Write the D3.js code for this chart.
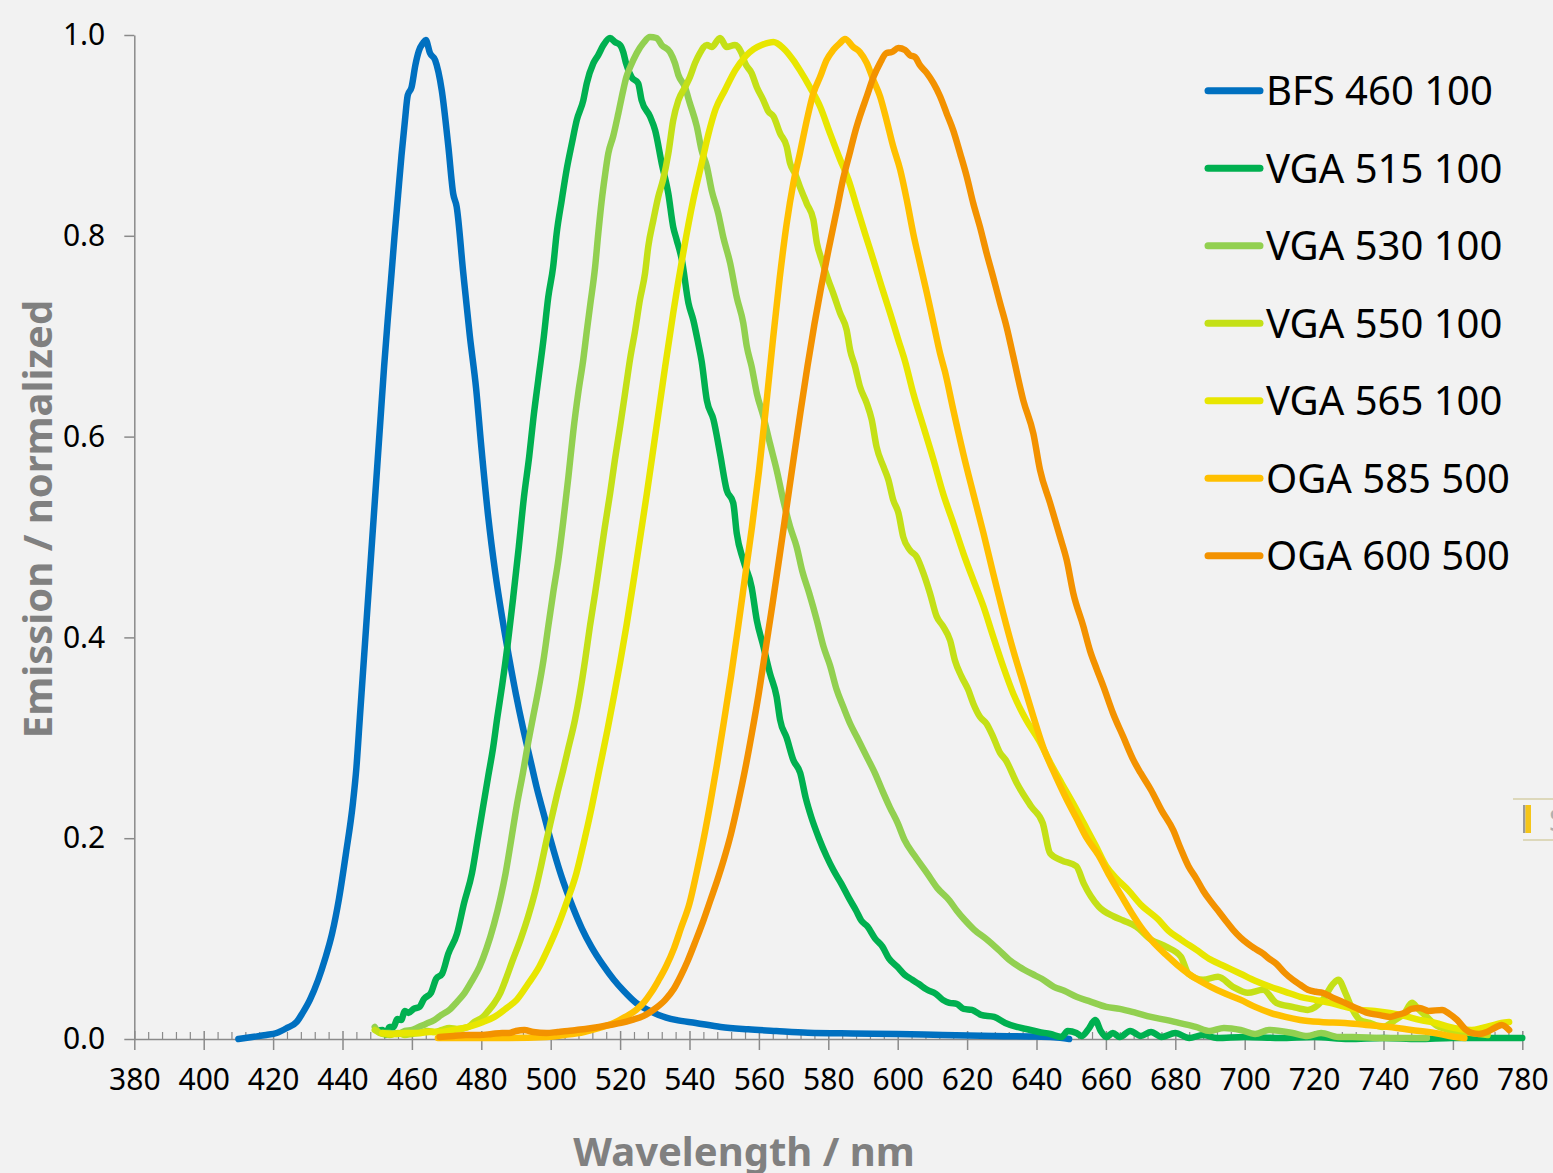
<!DOCTYPE html>
<html>
<head>
<meta charset="utf-8">
<script src="https://cdn.jsdelivr.net/npm/d3@7"></script>
<style>
  html, body { margin: 0; padding: 0; background: #f2f2f2; }
  svg { display: block; }
</style>
</head>
<body>
<svg id="chart" width="1553" height="1173"></svg>
<script>
// ---------------- DATA ----------------
const seriesNames = ["BFS 460 100", "VGA 515 100", "VGA 530 100", "VGA 550 100", "VGA 565 100", "OGA 585 500", "OGA 600 500"];
const seriesColors = ["#0070c0", "#00b050", "#92d050", "#c4e017", "#e8e600", "#ffc000", "#f39200"];

const xTicks = [380,400,420,440,460,480,500,520,540,560,580,600,620,640,660,680,700,720,740,760,780];
const yTicks = [0.0, 0.2, 0.4, 0.6, 0.8, 1.0];

// [wavelength nm, normalized emission]
const bfs460 = [[410,0],[414,0.002],[418,0.004],[421,0.006],[424,0.011],[426.8,0.017],[428.5,0.026],[430.6,0.039],[433,0.059],[435,0.08],[437,0.105],[439,0.14],[441,0.185],[443,0.235],[444,0.27],[445,0.32],[446,0.37],[447,0.42],[448,0.47],[449,0.52],[450,0.57],[451,0.62],[452,0.67],[453,0.715],[454,0.757],[455,0.8],[456,0.84],[457,0.88],[458,0.915],[458.8,0.94],[459.9,0.948],[461,0.97],[462,0.984],[463.2,0.992],[464.0,0.995],[465.2,0.982],[466.7,0.975],[468.6,0.945],[470.5,0.889],[471.9,0.842],[472.9,0.829],[474.8,0.763],[476.7,0.700],[478.5,0.648],[480,0.59],[482,0.52],[484,0.465],[486,0.42],[488,0.38],[490,0.343],[492,0.31],[494,0.28],[496,0.25],[498,0.224],[500,0.198],[503,0.163],[506.3,0.132],[509,0.11],[511.7,0.092],[515,0.074],[518.2,0.059],[521,0.048],[524.6,0.036],[528,0.029],[531.1,0.024],[536,0.019],[541.8,0.016],[549,0.012],[556.9,0.0097],[565,0.008],[574.1,0.0063],[587,0.0055],[599.9,0.005],[613,0.004],[627.8,0.003],[638,0.0025],[645,0.0017],[649.4,0.0]];

const vga515 = [[450,0.008],[451.5,0.009],[452.5,0.004],[453.5,0.012],[454.7,0.012],[455.8,0.02],[456.9,0.019],[458,0.028],[459,0.026],[460.5,0.03],[462.2,0.032],[463.5,0.04],[465.5,0.046],[467,0.06],[468.7,0.065],[470.5,0.085],[473,0.105],[475,0.135],[477.3,0.165],[479,0.2],[480.5,0.231],[482,0.262],[483.4,0.29],[484.6,0.32],[486,0.352],[487.6,0.393],[489.2,0.44],[490.8,0.49],[492.3,0.54],[493.8,0.58],[495.0,0.618],[496.4,0.656],[497.9,0.696],[499.3,0.739],[500.7,0.769],[501.7,0.802],[503.2,0.836],[504.6,0.866],[506.1,0.892],[507.5,0.915],[509.4,0.935],[510.4,0.952],[512.3,0.972],[513.7,0.98],[515.2,0.99],[517.1,0.997],[518.5,0.993],[520.0,0.99],[520.9,0.983],[521.7,0.972],[523.3,0.958],[525.2,0.952],[526.2,0.935],[528.6,0.919],[530.1,0.905],[532.0,0.872],[533.9,0.842],[535.3,0.809],[536.3,0.796],[537.8,0.776],[539.7,0.733],[541.1,0.716],[542.5,0.693],[543.5,0.675],[545.0,0.636],[546.9,0.617],[548.8,0.583],[550.7,0.547],[552.6,0.534],[553.6,0.504],[555.5,0.477],[557.9,0.45],[559.4,0.417],[561.3,0.391],[563.2,0.364],[565.1,0.341],[566.1,0.318],[568,0.3],[569.9,0.278],[571.9,0.265],[573.5,0.24],[575.1,0.221],[577.3,0.2],[579.5,0.182],[581.5,0.168],[583.7,0.155],[586,0.14],[588.0,0.128],[589.5,0.118],[591.3,0.112],[593.5,0.1],[595.6,0.092],[597.5,0.08],[599.9,0.072],[602,0.064],[604.2,0.059],[606,0.055],[608.5,0.049],[611,0.045],[613,0.039],[614.9,0.036],[617,0.035],[619,0.03],[621.4,0.029],[624,0.024],[627.8,0.022],[631,0.016],[634.3,0.012],[637,0.01],[640.7,0.007],[644,0.005],[647.2,0.002],[649,0.008],[651.5,0.006],[653,0.003],[655,0.01],[656.9,0.019],[658.5,0.008],[660.1,0.002],[662,0.006],[664,0.002],[667,0.008],[670,0.003],[673,0.007],[676,0.002],[680,0.006],[684,0.001],[688,0.004],[692,0.001],[700,0.002],[710,0.001],[720,0.002],[730,0.0],[740,0.001],[750,0.0],[760,0.001],[770,0.001],[780,0.001]];

const vga530 = [[449.3,0.012],[451,0.006],[453.6,0.006],[456,0.005],[458,0.008],[460.1,0.009],[462,0.012],[464,0.015],[466.5,0.019],[468.5,0.024],[470.8,0.029],[473,0.037],[475.2,0.046],[477.3,0.058],[479.5,0.072],[481.5,0.09],[483.7,0.115],[485.5,0.14],[487.0,0.165],[488.6,0.198],[490.2,0.232],[492,0.265],[493.5,0.295],[495,0.322],[496.4,0.347],[497.9,0.377],[499.3,0.411],[500.7,0.444],[502.2,0.477],[503.6,0.515],[505.1,0.56],[506.5,0.605],[508,0.645],[509.4,0.677],[510.4,0.705],[511.3,0.729],[512.8,0.769],[513.7,0.802],[514.7,0.835],[515.6,0.859],[516.6,0.882],[518.0,0.899],[519.5,0.922],[520.9,0.945],[521.8,0.958],[522.9,0.968],[524.8,0.982],[526.7,0.992],[528.6,0.998],[530.5,0.997],[532.0,0.99],[534.4,0.983],[535.8,0.972],[536.8,0.96],[538.7,0.948],[540.1,0.932],[542.1,0.909],[543.5,0.885],[545.0,0.869],[546.4,0.845],[548.3,0.822],[549.7,0.799],[551.7,0.773],[553.6,0.739],[555.5,0.713],[556.5,0.69],[557.9,0.67],[559.4,0.643],[561.3,0.62],[563.2,0.593],[565.1,0.567],[567.0,0.537],[569.0,0.51],[570.9,0.49],[572.5,0.466],[574.5,0.444],[576.7,0.417],[578.6,0.391],[580.5,0.372],[582.4,0.348],[584.3,0.331],[586.3,0.314],[588.2,0.301],[591.1,0.281],[593.4,0.265],[595.5,0.248],[597.7,0.231],[600,0.215],[602.0,0.198],[605,0.182],[608.5,0.165],[611.5,0.15],[614.9,0.138],[617,0.128],[619.2,0.119],[622,0.109],[625.7,0.099],[629,0.089],[632.1,0.079],[635,0.072],[638.6,0.065],[641.5,0.06],[645.0,0.052],[648,0.048],[651.5,0.042],[655,0.038],[660.1,0.032],[664,0.03],[668.7,0.026],[673,0.022],[677.3,0.019],[681,0.016],[685.9,0.012],[690,0.008],[694,0.011],[698.8,0.009],[703,0.005],[707,0.009],[713.8,0.006],[718,0.003],[722,0.006],[727,0.002],[731,0.002],[740,0.001],[752.5,0.001]];

const vga550 = [[449.3,0.009],[451.5,0.005],[453.6,0.004],[456,0.006],[458,0.004],[460,0.005],[462.2,0.006],[464.5,0.008],[466.5,0.007],[468.7,0.009],[470.8,0.011],[473,0.01],[476.2,0.012],[478,0.017],[480.5,0.022],[482,0.028],[483.8,0.036],[485.5,0.046],[487.0,0.059],[489,0.078],[491.3,0.099],[493.5,0.122],[495.6,0.148],[497.2,0.172],[498.8,0.198],[500.4,0.222],[502.0,0.246],[503.6,0.268],[505.1,0.29],[507.0,0.318],[508.4,0.344],[509.9,0.377],[511.3,0.411],[512.8,0.444],[514.2,0.477],[515.6,0.51],[517.1,0.543],[518.5,0.577],[520,0.61],[521.5,0.645],[523,0.68],[524.3,0.705],[525.7,0.736],[527.2,0.763],[528.1,0.789],[529.6,0.816],[531.0,0.839],[532.4,0.856],[533.9,0.882],[535.3,0.915],[536.8,0.935],[538.7,0.948],[540.1,0.958],[541.6,0.972],[543.0,0.982],[545.0,0.99],[546.4,0.988],[548.8,0.997],[550.7,0.988],[553.1,0.99],[555.0,0.982],[556.0,0.972],[557.9,0.962],[559.4,0.948],[561.3,0.935],[562.7,0.924],[564.2,0.919],[566.1,0.902],[568.0,0.889],[569.0,0.872],[570.4,0.862],[571.8,0.849],[573.8,0.832],[575.7,0.816],[576.7,0.793],[578.1,0.776],[580.0,0.756],[581.4,0.743],[583.4,0.723],[585.3,0.706],[586.3,0.686],[587.7,0.67],[589.1,0.65],[591.1,0.633],[592.5,0.617],[593.9,0.59],[595.9,0.57],[597.3,0.557],[598.7,0.537],[600.2,0.524],[601.6,0.5],[603.5,0.487],[605.5,0.48],[607.4,0.464],[609.3,0.444],[611.2,0.421],[613.1,0.411],[615.1,0.397],[616.5,0.377],[618.4,0.361],[620.3,0.348],[621.8,0.334],[623.7,0.321],[625.6,0.314],[627.5,0.301],[629.5,0.285],[631.1,0.278],[634.3,0.255],[638.6,0.231],[641.8,0.215],[643.9,0.185],[647.2,0.178],[651.5,0.172],[653.6,0.155],[657.9,0.132],[662.3,0.122],[665,0.118],[668.7,0.112],[673.0,0.099],[677.3,0.092],[681.6,0.082],[683.8,0.065],[688.0,0.059],[692.3,0.062],[696.6,0.052],[700.9,0.046],[705.3,0.049],[709.1,0.036],[713.8,0.032],[718.2,0.029],[722.5,0.039],[725.5,0.055],[727,0.059],[729,0.046],[731,0.03],[733.2,0.019],[736,0.016],[739.7,0.012],[743,0.018],[746.1,0.026],[748.2,0.036],[750,0.03],[752.5,0.022],[755,0.014],[759.0,0.009],[765.4,0.006],[770,0.004]];

const vga565 = [[451.5,0.006],[455,0.005],[458,0.006],[462,0.006],[465,0.007],[468.7,0.007],[472,0.009],[475,0.011],[477.3,0.013],[480.5,0.017],[483.8,0.022],[487,0.03],[490.2,0.039],[493.5,0.055],[496.7,0.072],[499.5,0.092],[502.0,0.112],[504.8,0.138],[507.4,0.165],[509.5,0.195],[511.7,0.229],[514,0.268],[516.3,0.307],[518.3,0.343],[520,0.375],[521.9,0.413],[524.8,0.477],[527.7,0.543],[530.5,0.61],[533.0,0.67],[535.3,0.723],[538.2,0.783],[541.1,0.836],[543.5,0.872],[545.5,0.902],[547.5,0.926],[550.2,0.945],[553.2,0.965],[556.2,0.979],[558.5,0.986],[560.8,0.99],[564.2,0.993],[567.0,0.987],[569.9,0.975],[571.8,0.965],[574.7,0.948],[577.6,0.929],[580.5,0.902],[583.4,0.876],[585.8,0.856],[588.2,0.829],[590.6,0.802],[593.0,0.776],[595.4,0.749],[597.8,0.723],[600.2,0.696],[602.2,0.674],[604.5,0.643],[607.4,0.61],[610.3,0.577],[613.1,0.543],[616.0,0.514],[618.9,0.484],[621.8,0.457],[624.7,0.431],[627.5,0.401],[630.4,0.371],[633.3,0.344],[637.0,0.318],[640.8,0.297],[644,0.275],[647.2,0.255],[650.5,0.235],[653.6,0.215],[657,0.193],[660.1,0.172],[663,0.16],[666.5,0.148],[670,0.134],[675.1,0.119],[678,0.108],[681.6,0.099],[686,0.089],[690.2,0.079],[694.5,0.072],[698.8,0.065],[703,0.058],[707.4,0.052],[711.7,0.047],[716.0,0.042],[720.3,0.039],[724.6,0.036],[729,0.032],[733.2,0.029],[737.5,0.028],[741.8,0.026],[746,0.023],[750.4,0.019],[755,0.016],[759.0,0.012],[762,0.01],[765.4,0.009],[768.5,0.011],[771.9,0.014],[774,0.016],[776.2,0.017]];

const oga585 = [[467.5,0.001],[475,0.001],[488,0.001],[498.8,0.002],[504,0.004],[509.6,0.007],[514,0.011],[518.2,0.016],[521.5,0.022],[524.6,0.029],[527,0.037],[528.9,0.046],[531,0.058],[533.2,0.072],[535.5,0.09],[537.5,0.11],[540,0.135],[542,0.165],[544,0.198],[546,0.235],[548,0.275],[550,0.318],[552,0.362],[554,0.41],[556,0.46],[558,0.51],[560,0.565],[562,0.628],[564,0.695],[566,0.758],[568.0,0.812],[569.9,0.852],[571.8,0.882],[573.8,0.915],[575.7,0.942],[577.6,0.958],[579.5,0.975],[581.4,0.985],[583.4,0.992],[584.8,0.996],[587.2,0.988],[589.1,0.983],[591.1,0.972],[593.0,0.955],[594.9,0.939],[596.8,0.915],[598.7,0.889],[600.7,0.866],[602.6,0.836],[604.5,0.802],[606.4,0.773],[608.4,0.743],[610.3,0.713],[612.2,0.683],[613.6,0.665],[616.0,0.627],[618.9,0.583],[621.8,0.543],[624.7,0.504],[627.5,0.464],[630.4,0.424],[633.3,0.387],[636.2,0.354],[639.1,0.321],[642,0.29],[645.5,0.262],[648.5,0.24],[651.5,0.22],[654.5,0.2],[657.9,0.183],[661,0.163],[664.4,0.143],[667.5,0.125],[670.8,0.108],[674,0.095],[677.3,0.084],[680.5,0.074],[683.8,0.065],[687,0.058],[690.2,0.052],[694.5,0.045],[698.8,0.039],[703,0.032],[707.4,0.026],[711.7,0.022],[716,0.019],[722,0.017],[728.9,0.016],[735,0.014],[741.8,0.012],[748,0.009],[754.7,0.006],[759,0.003],[763.3,0.001]];

const oga600 = [[468,0.002],[472,0.003],[475.5,0.004],[479.5,0.004],[483,0.005],[486,0.006],[488,0.006],[490,0.008],[492.4,0.009],[495,0.007],[498.8,0.006],[502,0.007],[505,0.008],[507.4,0.009],[510,0.01],[513.9,0.012],[517,0.014],[520.3,0.016],[523.5,0.019],[526.8,0.023],[530,0.03],[533,0.039],[535.5,0.05],[537.5,0.063],[539.5,0.078],[541.8,0.098],[544,0.118],[546,0.138],[548,0.158],[550,0.18],[552,0.205],[554,0.235],[556,0.268],[558,0.305],[560,0.345],[562,0.39],[564,0.435],[566,0.482],[568,0.53],[570,0.578],[572,0.625],[574,0.67],[576,0.712],[578,0.75],[580,0.785],[582.4,0.825],[584.3,0.857],[586.3,0.884],[587.7,0.903],[589.1,0.919],[591.1,0.939],[593.0,0.958],[594.9,0.972],[596.8,0.982],[598.3,0.983],[600.2,0.987],[602.1,0.985],[603.5,0.98],[605.0,0.978],[606.4,0.97],[608.4,0.962],[610.3,0.952],[612.2,0.939],[614.1,0.922],[616.0,0.905],[618.0,0.882],[619.9,0.859],[621.8,0.832],[623.7,0.809],[625.6,0.783],[627.5,0.759],[629.5,0.733],[631.4,0.709],[633.3,0.68],[636.2,0.636],[639.1,0.603],[641.0,0.567],[643.9,0.534],[646.8,0.5],[648.7,0.477],[650.6,0.444],[653.5,0.411],[655.4,0.387],[657.4,0.368],[659.3,0.351],[662.1,0.324],[665.0,0.301],[667.9,0.278],[670,0.265],[673.0,0.248],[676,0.228],[679.4,0.208],[681.5,0.19],[683.8,0.172],[686,0.16],[688.0,0.148],[690,0.138],[692.3,0.128],[694.5,0.118],[696.6,0.109],[698.8,0.101],[700.9,0.095],[703,0.09],[705.3,0.085],[707,0.08],[709.1,0.075],[711.5,0.066],[713.9,0.059],[716,0.054],[718.2,0.049],[720.5,0.047],[722.5,0.046],[725.5,0.041],[728.9,0.036],[732,0.031],[735.4,0.026],[738.5,0.024],[741.8,0.022],[744,0.024],[746.1,0.026],[748,0.03],[750.4,0.031],[753,0.028],[756.9,0.029],[759,0.025],[761.2,0.019],[763.5,0.01],[765.4,0.006],[767.5,0.005],[769.8,0.007],[772,0.011],[774.1,0.014],[776.2,0.009]];

const seriesData = [bfs460, vga515, vga530, vga550, vga565, oga585, oga600];

// ---------------- DRAW ----------------
const svg = d3.select("#chart");
const W = 1553, H = 1173;
svg.append("rect").attr("width", W).attr("height", H).attr("fill", "#f2f2f2");

const x = d3.scaleLinear().domain([380, 780]).range([134.3, 1522.3]);
const y = d3.scaleLinear().domain([0, 1]).range([1039, 35]);
const FONT = "'Noto Sans', 'Open Sans', sans-serif";
const AXIS_COLOR = "#8a8a8a";

// Y axis
const yAxis = svg.append("g").attr("transform", `translate(${x(380)},0)`)
  .call(d3.axisLeft(y).tickValues(yTicks).tickFormat(d3.format(".1f")).tickSize(10).tickSizeOuter(0).tickPadding(19));
yAxis.select(".domain").attr("stroke", AXIS_COLOR).attr("stroke-width", 1.5);
yAxis.selectAll(".tick line").attr("stroke", AXIS_COLOR).attr("stroke-width", 1.5);
yAxis.selectAll(".tick text").attr("font-family", FONT).attr("font-size", 30).attr("fill", "#000");

// X axis minor ticks (upward)
const minorTicks = d3.range(380, 781, 4).filter(v => (v - 380) % 20 !== 0);
const xMinor = svg.append("g").attr("transform", `translate(0,${y(0)})`)
  .call(d3.axisTop(x).tickValues(minorTicks).tickFormat("").tickSize(7).tickSizeOuter(0));
xMinor.select(".domain").remove();
xMinor.selectAll(".tick line").attr("stroke", AXIS_COLOR).attr("stroke-width", 1.2);

// X axis major
const xAxis = svg.append("g").attr("transform", `translate(0,${y(0)})`)
  .call(d3.axisBottom(x).tickValues(xTicks).tickFormat(d3.format("d")).tickSize(10).tickSizeOuter(0));
xAxis.select(".domain").attr("stroke", AXIS_COLOR).attr("stroke-width", 1.5);
xAxis.selectAll(".tick line").attr("stroke", AXIS_COLOR).attr("stroke-width", 1.5).attr("y1", -8).attr("y2", 11);
xAxis.selectAll(".tick text").attr("font-family", FONT).attr("font-size", 30).attr("fill", "#000")
  .attr("y", 51).attr("dy", 0);

// Series lines
const line = d3.line().x(d => x(d[0])).y(d => y(d[1])).curve(d3.curveMonotoneX);
const gLines = svg.append("g");
seriesData.forEach((data, i) => {
  gLines.append("path")
    .datum(data)
    .attr("d", line)
    .attr("fill", "none")
    .attr("stroke", seriesColors[i])
    .attr("stroke-width", 6.5)
    .attr("stroke-linejoin", "round")
    .attr("stroke-linecap", "round");
});

// Legend
const legend = svg.append("g");
const legY0 = 90.7, legStep = 77.5;
seriesNames.forEach((name, i) => {
  const ly = legY0 + i * legStep;
  legend.append("line")
    .attr("x1", 1208).attr("x2", 1260).attr("y1", ly).attr("y2", ly)
    .attr("stroke", seriesColors[i]).attr("stroke-width", 7).attr("stroke-linecap", "round");
  legend.append("text")
    .attr("x", 1266).attr("y", ly + 14.5)
    .attr("font-family", FONT).attr("font-size", 40).attr("fill", "#000")
    .text(name);
});

// Axis titles
svg.append("text")
  .attr("x", 744).attr("y", 1166)
  .attr("text-anchor", "middle")
  .attr("font-family", FONT).attr("font-weight", "bold").attr("font-size", 40).attr("fill", "#808080")
  .text("Wavelength / nm");

svg.append("text")
  .attr("transform", "translate(51.5,519) rotate(-90)")
  .attr("text-anchor", "middle")
  .attr("font-family", FONT).attr("font-weight", "bold").attr("font-size", 40).attr("fill", "#808080")
  .text("Emission / normalized");

// Small clipped element at the right edge
const edge = svg.append("g");
edge.append("line").attr("x1", 1513).attr("x2", 1553).attr("y1", 799).attr("y2", 799)
  .attr("stroke", "#d6cfa8").attr("stroke-width", 1.5);
edge.append("line").attr("x1", 1523).attr("x2", 1553).attr("y1", 840).attr("y2", 840)
  .attr("stroke", "#d6cfa8").attr("stroke-width", 1.5);
edge.append("rect").attr("x", 1523).attr("y", 805).attr("width", 2.5).attr("height", 28).attr("fill", "#9a9a9a");
edge.append("rect").attr("x", 1525.5).attr("y", 805).attr("width", 5.5).attr("height", 28).attr("fill", "#f5c518");
edge.append("text").attr("x", 1549).attr("y", 831).attr("font-family", FONT).attr("font-size", 30)
  .attr("fill", "#b0b0b0").text("S");
</script>
</body>
</html>
